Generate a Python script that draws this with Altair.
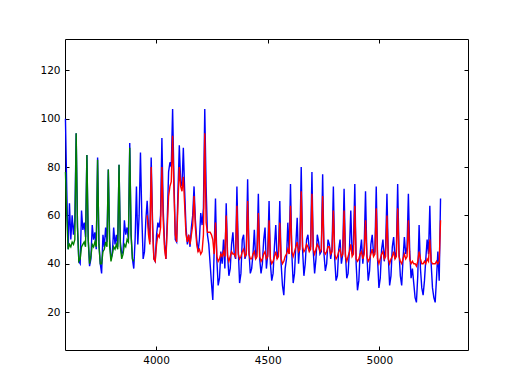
import altair as alt
import pandas as pd

# sampling grid of the series (x = X0 + STEP * index)
X0 = 3594
STEP = 6

# observed series (blue), one row per ~48-unit cycle
blue = [
    100, 70, 46, 65, 50, 60, 52, 58,
    94, 55, 41, 40, 62, 54, 57, 51,
    85, 50, 39, 42, 56, 50, 53, 46,
    84, 48, 40, 36, 52, 47, 55, 49,
    79, 50, 42, 44, 55, 48, 52, 47,
    81, 49, 44, 45, 58, 52, 55, 50,
    90, 52, 42, 38, 50, 72, 48, 60,
    86, 60, 42, 45, 58, 66, 55, 49,
    84, 58, 42, 41, 52, 57, 55, 60,
    92, 62, 48, 42, 58, 78, 82, 80,
    104, 75, 50, 49, 70, 89, 74, 72,
    88, 70, 55, 48, 52, 47, 55, 60,
    72, 58, 50, 45, 50, 61, 56, 63,
    104, 72, 52, 48, 40, 32, 25, 45,
    67, 42, 31, 34, 45, 40, 50, 38,
    65, 44, 35, 38, 48, 53, 44, 42,
    72, 46, 32, 36, 50, 52, 42, 44,
    75, 45, 36, 38, 44, 54, 42, 46,
    69, 42, 36, 40, 50, 55, 38, 44,
    66, 40, 33, 36, 47, 56, 42, 45,
    66, 40, 31, 27, 38, 42, 57, 44,
    73, 44, 32, 36, 48, 59, 40, 48,
    80, 46, 35, 40, 50, 52, 46, 47,
    78, 45, 36, 42, 52, 49, 44, 45,
    77, 44, 37, 40, 50, 48, 42, 46,
    72, 42, 33, 35, 46, 50, 40, 44,
    71, 44, 34, 36, 46, 62, 44, 48,
    73, 40, 29, 33, 45, 50, 40, 47,
    70, 44, 33, 37, 48, 52, 44, 45,
    72, 42, 30, 34, 46, 50, 41, 47,
    69, 43, 31, 35, 47, 51, 42, 45,
    73, 45, 35, 31, 42, 51, 44, 47,
    69, 45, 34, 38, 32, 26, 24, 35,
    56, 38, 30, 27, 33, 42, 50, 44,
    64, 40, 30, 26, 24, 34, 45, 33,
    67,
]

# fitted series (green), starts at index 0
GREEN_START = 0
green = [
    78, 60, 46, 48, 47, 49, 48, 50,
    94, 55, 41, 42, 47, 48, 49, 47,
    85, 50, 40, 43, 48, 47, 49, 47,
    83, 48, 40, 40, 45, 46, 49, 47,
    79, 47, 41, 44, 47, 46, 48, 46,
    81, 47, 42, 44, 48, 47, 50, 49,
    88, 52, 42, 41,
]

# predicted series (red), starts at index 61
RED_START = 61
red = [
    60, 52, 48,
    80, 55, 42, 41, 48, 52, 51, 55,
    80, 58, 46, 42, 55, 68, 72, 74,
    93, 70, 52, 49, 65, 80, 72, 70,
    76, 64, 52, 49, 52, 48, 52, 56,
    68, 55, 48, 45, 46, 44, 45, 52,
    94, 57, 53, 53, 53, 52, 50, 44,
    57, 43, 41, 42, 44, 43, 45, 43,
    60, 43, 41, 43, 45, 44, 44, 43,
    64, 44, 42, 43, 45, 46, 43, 44,
    66, 44, 42, 42, 44, 45, 42, 43,
    61, 43, 41, 42, 44, 45, 42, 43,
    58, 42, 40, 41, 43, 45, 42, 43,
    57, 42, 40, 41, 43, 44, 46, 44,
    64, 45, 43, 45, 47, 49, 45, 46,
    70, 47, 45, 46, 48, 47, 45, 46,
    69, 46, 44, 46, 48, 47, 45, 46,
    68, 45, 44, 45, 47, 47, 44, 45,
    62, 44, 42, 43, 45, 46, 43, 44,
    62, 43, 41, 43, 45, 48, 43, 44,
    64, 42, 41, 42, 44, 45, 42, 44,
    58, 43, 41, 42, 44, 46, 43, 44,
    63, 42, 40, 42, 44, 45, 42, 43,
    60, 42, 40, 42, 43, 45, 42, 43,
    63, 43, 41, 40, 42, 44, 42, 43,
    58, 42, 40, 41, 40, 40, 39, 41,
    45, 42, 40, 40, 41, 40, 42, 41,
    50, 41, 40, 40, 40, 41, 40, 41,
    58,
]

X_DOMAIN = [3592, 5397]
Y_DOMAIN = [4.3, 133]
X_TICKS = [4000, 4500, 5000]
Y_TICKS = [20, 40, 60, 80, 100, 120]


def frame(values, start):
    return pd.DataFrame({
        "x": [X0 + STEP * (start + i) for i in range(len(values))],
        "y": values,
    })


xs = alt.Scale(domain=X_DOMAIN, nice=False, zero=False)
ys = alt.Scale(domain=Y_DOMAIN, nice=False, zero=False)

FONT = "DejaVu Sans"


def label_axis(orient, values):
    return alt.Axis(orient=orient, values=values, title=None, ticks=False,
                    domain=False, grid=False, labelFont=FONT, labelFontSize=10.5,
                    labelColor="black", labelPadding=5, format="d")


def tick_axis(orient, values):
    return alt.Axis(orient=orient, values=values, title=None, labels=False,
                    domain=False, grid=False, offset=-4, tickSize=4,
                    tickColor="black", tickWidth=1)


def line(df, color, xaxis, yaxis):
    return alt.Chart(df).mark_line(color=color, strokeWidth=1.4).encode(
        x=alt.X("x:Q", scale=xs, axis=xaxis),
        y=alt.Y("y:Q", scale=ys, axis=yaxis),
    )


blue_layer = line(frame(blue, 0), "#0000ff",
                  label_axis("bottom", X_TICKS), label_axis("left", Y_TICKS))
green_layer = line(frame(green, GREEN_START), "#008000",
                   tick_axis("bottom", X_TICKS), tick_axis("left", Y_TICKS))
red_layer = line(frame(red, RED_START), "#ff0000",
                 tick_axis("top", X_TICKS), tick_axis("right", Y_TICKS))

chart = alt.layer(blue_layer, green_layer, red_layer).resolve_axis(
    x="independent", y="independent"
).properties(
    width=403,
    height=311,
    autosize=alt.AutoSizeParams(type="none"),
    padding={"left": 57, "top": 31, "right": 44, "bottom": 32},
    background="white",
).configure_view(stroke="black", strokeWidth=1)

chart.save("out.html", embed_options={"renderer": "svg", "actions": False})
